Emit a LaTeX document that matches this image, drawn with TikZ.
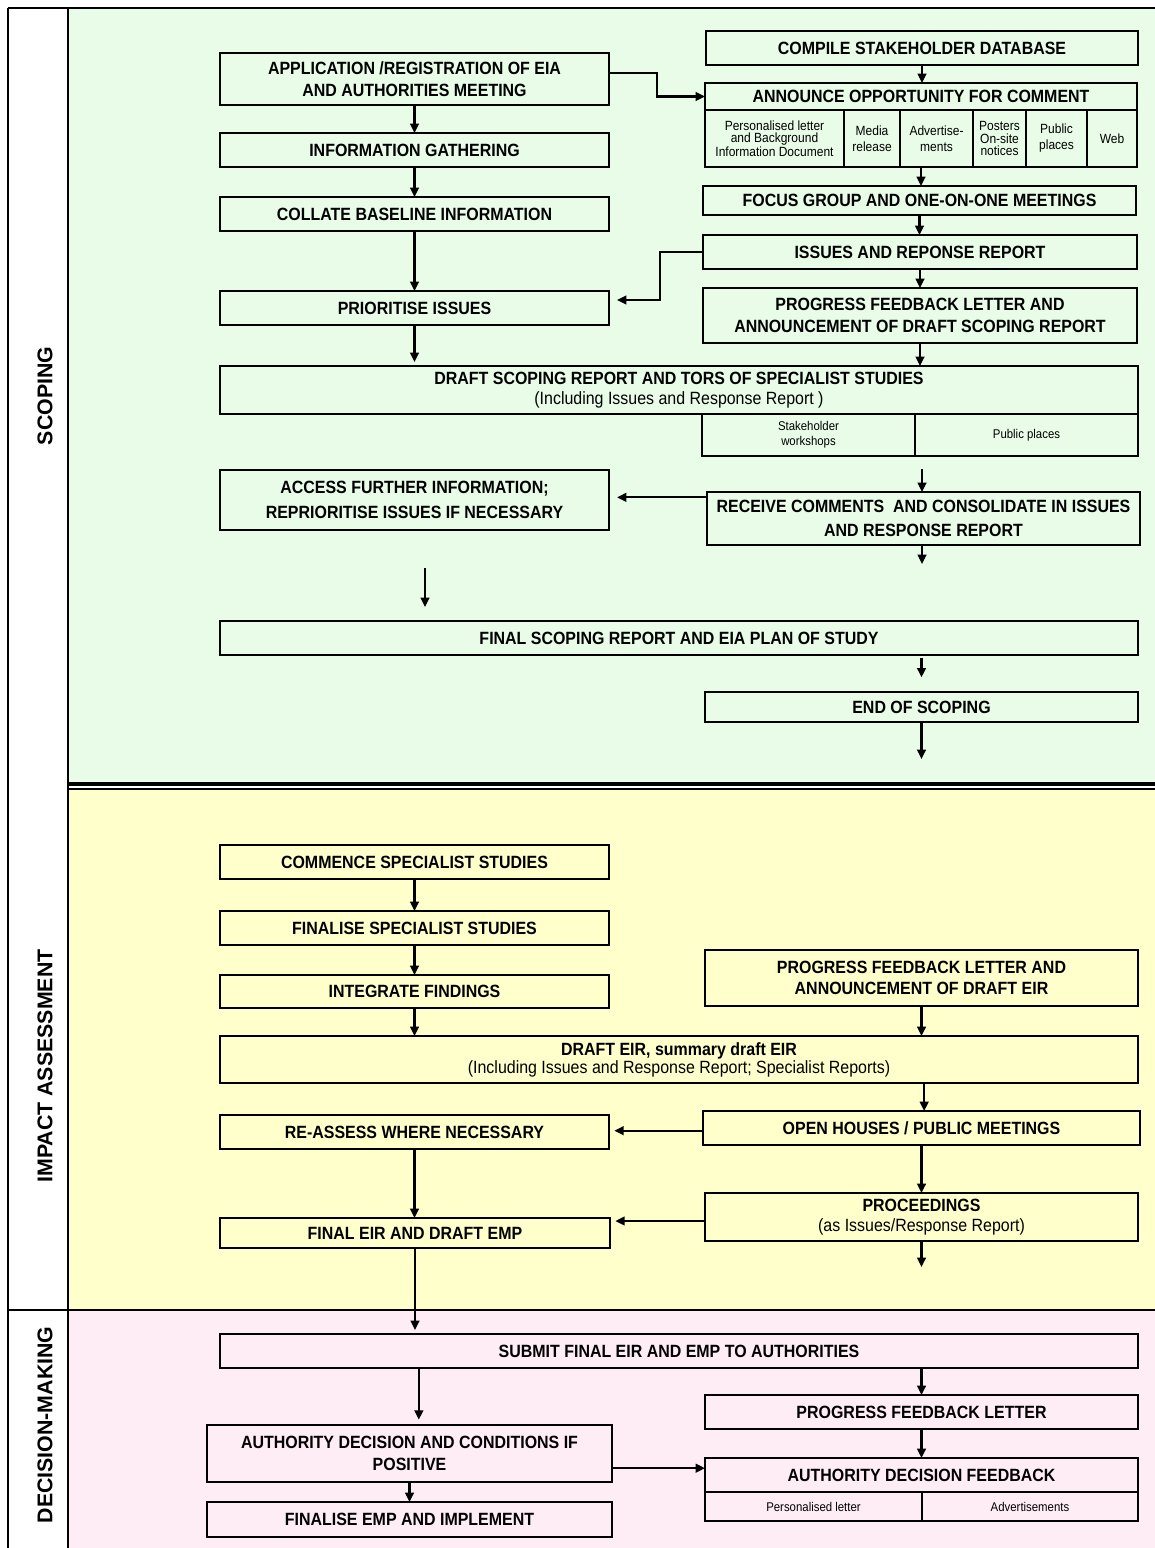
\documentclass[tikz,border=0pt]{standalone}
\usepackage{fontspec}
\setmainfont{Liberation Sans}[FakeStretch=0.9]
\newfontfamily\sidefont{Liberation Sans}
\usetikzlibrary{arrows.meta,fit}
\definecolor{scopeg}{RGB}{232,252,232}
\definecolor{impy}{RGB}{255,255,204}
\definecolor{decp}{RGB}{255,237,245}
\newcommand\BX[6][box]{\node[#1,fit={(#3,#4)(#5,#6)}] (#2) {}; \node[#1,draw=none] (#2-t) at (#2.center)}
\begin{document}
\begin{tikzpicture}[x=0.75pt,y=-0.75pt,
 box/.style={draw, line width=1.1pt, inner sep=0pt, outer sep=0pt, align=center, font=\bfseries\fontsize{13.3}{16}\selectfont},
 ttl/.style={box, draw=none},
 cell/.style={draw, line width=1.1pt, inner sep=0pt, outer sep=0pt, align=center, font=\fontsize{10}{12}\selectfont},
 tcell/.style={cell, font=\fontsize{10}{9.2}\selectfont},
 scell/.style={cell, font=\fontsize{9.5}{11}\selectfont},
 arr/.style={line width=1.6pt, -{Triangle[length=7pt,width=6.5pt]}},
 side/.style={rotate=90, font=\sidefont\bfseries\fontsize{16}{18}\selectfont},
 frame/.style={line width=2.2pt}]
\useasboundingbox (0,0) rectangle (1155,1548);
% panels
\fill[scopeg] (68,8) rectangle (1155,783);
\fill[impy] (68,788) rectangle (1155,1310);
\fill[decp] (68,1310) rectangle (1155,1548);
\draw[line width=1.5pt] (8,8) -- (8,1548);
\draw[frame] (8,8) -- (1155,8);
\draw[frame] (68,8) -- (68,1548);
\draw[line width=3pt] (68,784) -- (1155,784);
\draw[line width=1.5pt] (68,788.5) -- (1155,788.5);
\draw[frame] (8,1310) -- (1155,1310);
\node[side] (lscope) at (45,396) {SCOPING};
\node[side] (limpact) at (45,1066) {IMPACT ASSESSMENT};
\node[side] (ldecision) at (45,1425) {DECISION-MAKING};
% ---------------- scoping
\BX{app}{220}{53}{609}{105} {APPLICATION /REGISTRATION OF EIA\\AND AUTHORITIES MEETING};
\BX{info}{220}{133}{609}{167} {INFORMATION GATHERING};
\BX{collate}{220}{197}{609}{231} {COLLATE BASELINE INFORMATION};
\BX{prior}{220}{291}{609}{325} {PRIORITISE ISSUES};
\BX{compile}{706}{31}{1138}{65} {COMPILE STAKEHOLDER DATABASE};
\BX{announce}{705}{83}{1137}{167} {};
\BX[ttl]{anntitle}{705}{83}{1137}{110} {ANNOUNCE OPPORTUNITY FOR COMMENT};
\BX[tcell]{c1}{705}{110}{844}{167} {Personalised letter\\and Background\\Information Document};
\BX[cell]{c2}{844}{110}{900}{167} {Media\\release};
\BX[cell]{c3}{900}{110}{973}{167} {Advertise-\\ments};
\BX[tcell]{c4}{973}{110}{1026}{167} {Posters\\On-site\\notices};
\BX[cell]{c5}{1026}{110}{1087}{167} {Public\\places};
\BX[cell]{c6}{1087}{110}{1137}{167} {Web};
\BX{focus}{703}{186}{1136}{215} {FOCUS GROUP AND ONE-ON-ONE MEETINGS};
\BX{issues}{703}{235}{1137}{269} {ISSUES AND REPONSE REPORT};
\BX{progress}{703}{288}{1137}{343} {PROGRESS FEEDBACK LETTER AND\\ANNOUNCEMENT OF DRAFT SCOPING REPORT};
\BX[box,font=\bfseries\fontsize{13.3}{14.5}\selectfont]{draft}{220}{366}{1138}{414} {DRAFT SCOPING REPORT AND TORS OF SPECIALIST STUDIES\\\mdseries (Including Issues and Response Report )};
\BX[scell]{sw}{702}{414}{915}{456} {Stakeholder\\workshops};
\BX[scell]{pp}{915}{414}{1138}{456} {Public places};
\BX[box,font=\bfseries\fontsize{13.3}{19}\selectfont]{access}{220}{470}{609}{530} {ACCESS FURTHER INFORMATION;\\REPRIORITISE ISSUES IF NECESSARY};
\BX[box,font=\bfseries\fontsize{13.3}{17.5}\selectfont]{receive}{707}{492}{1140}{545} {RECEIVE COMMENTS\ \ AND CONSOLIDATE IN ISSUES\\AND RESPONSE REPORT};
\BX{finalsc}{220}{621}{1138}{655} {FINAL SCOPING REPORT AND EIA PLAN OF STUDY};
\BX{endsc}{705}{692}{1138}{722} {END OF SCOPING};
\coordinate (f1) at (922,469);
\coordinate (f2) at (922,564);
\coordinate (f3a) at (425,568);
\coordinate (f3b) at (425,607);
\draw[arr] (app) -- (info);
\draw[arr] (info) -- (collate);
\draw[arr] (collate) -- (prior);
\draw[arr] (prior.south) -- ([yshift=3pt]prior.south |- draft.north);
\draw[arr] ([yshift=4.5pt]app.east) -- ++(48,0) |- (anntitle.west);
\draw[arr] (compile.south) -- (compile.south |- announce.north);
\draw[arr] (announce.south) -- (announce.south |- focus.north);
\draw[arr] (focus.south) -- (focus.south |- issues.north);
\draw[arr, shorten >=6pt] (issues.west) -- ++(-43,0) |- ([yshift=6pt]prior.east);
\draw[arr] (issues.south) -- (issues.south |- progress.north);
\draw[arr] (progress.south) -- (progress.south |- draft.north);
\draw[arr] (f1) -- (f1 |- receive.north);
\draw[arr, shorten >=6pt] ([yshift=2pt]receive.west |- access.east) -- ([yshift=2pt]access.east);
\draw[arr] (f2 |- receive.south) -- (f2);
\draw[arr] (f3a) -- (f3b);
\draw[arr, shorten <=2pt, shorten >=11pt] (endsc.north |- finalsc.south) -- (endsc.north);
\draw[arr] (endsc.south) -- ++(0,37);
% ---------------- impact
\BX{commence}{220}{845}{609}{879} {COMMENCE SPECIALIST STUDIES};
\BX{finspec}{220}{911}{609}{945} {FINALISE SPECIALIST STUDIES};
\BX{integ}{220}{975}{609}{1008} {INTEGRATE FINDINGS};
\BX{progeir}{705}{950}{1138}{1006} {PROGRESS FEEDBACK LETTER AND\\ANNOUNCEMENT OF DRAFT EIR};
\BX[box,font=\bfseries\fontsize{13.3}{13.5}\selectfont]{drafteir}{220}{1036}{1138}{1083} {DRAFT EIR, summary draft EIR\\\mdseries (Including Issues and Response Report; Specialist Reports)};
\BX{reass}{220}{1115}{609}{1149} {RE-ASSESS WHERE NECESSARY};
\BX{openh}{703}{1111}{1140}{1145} {OPEN HOUSES / PUBLIC MEETINGS};
\BX[box,font=\bfseries\fontsize{13.3}{14.5}\selectfont]{proc}{705}{1193}{1138}{1241} {PROCEEDINGS\\\mdseries (as Issues/Response Report)};
\BX{fineir}{220}{1218}{610}{1248} {FINAL EIR AND DRAFT EMP};
\draw[arr] (commence) -- (finspec);
\draw[arr] (finspec) -- (integ);
\draw[arr] (integ.south) -- (integ.south |- drafteir.north);
\draw[arr] (progeir.south) -- (progeir.south |- drafteir.north);
\draw[arr] ([xshift=2pt]openh.north |- drafteir.south) -- ([xshift=2pt]openh.north);
\draw[arr, shorten >=4pt] ([yshift=-2pt]openh.west) -- ([yshift=-2pt]openh.west -| reass.east);
\draw[arr] (openh.south) -- (openh.south |- proc.north);
\draw[arr, shorten >=4pt] ([yshift=-3pt]proc.west) -- ([yshift=-3pt]proc.west -| fineir.east);
\draw[arr] (reass.south) -- (reass.south |- fineir.north);
\draw[arr] (proc.south) -- ++(0,26);
% ---------------- decision
\BX{submit}{220}{1334}{1138}{1368} {SUBMIT FINAL EIR AND EMP TO AUTHORITIES};
\BX{progl}{705}{1395}{1138}{1429} {PROGRESS FEEDBACK LETTER};
\BX{adf}{705}{1458}{1138}{1521} {};
\BX[ttl]{adftitle}{705}{1458}{1138}{1492} {AUTHORITY DECISION FEEDBACK};
\BX[scell]{pl}{705}{1492}{922}{1521} {Personalised letter};
\BX[scell]{adv}{922}{1492}{1138}{1521} {Advertisements};
\BX[box,font=\bfseries\fontsize{13.3}{16.5}\selectfont]{authd}{207}{1425}{612}{1482} {AUTHORITY DECISION AND CONDITIONS IF\\POSITIVE};
\BX{finemp}{207}{1502}{612}{1537} {FINALISE EMP AND IMPLEMENT};
\draw[arr] (fineir.south) -- ([yshift=3pt]fineir.south |- submit.north);
\draw[arr, shorten >=4pt] ([xshift=7pt]authd.north |- submit.south) -- ([xshift=7pt]authd.north);
\draw[arr] (progl.north |- submit.south) -- (progl.north);
\draw[arr] (progl.south) -- (progl.south |- adf.north);
\draw[arr] ([yshift=-11pt]authd.east) -- ([yshift=-11pt]authd.east -| adf.west);
\draw[arr] (authd.south) -- (authd.south |- finemp.north);
\end{tikzpicture}
\end{document}
